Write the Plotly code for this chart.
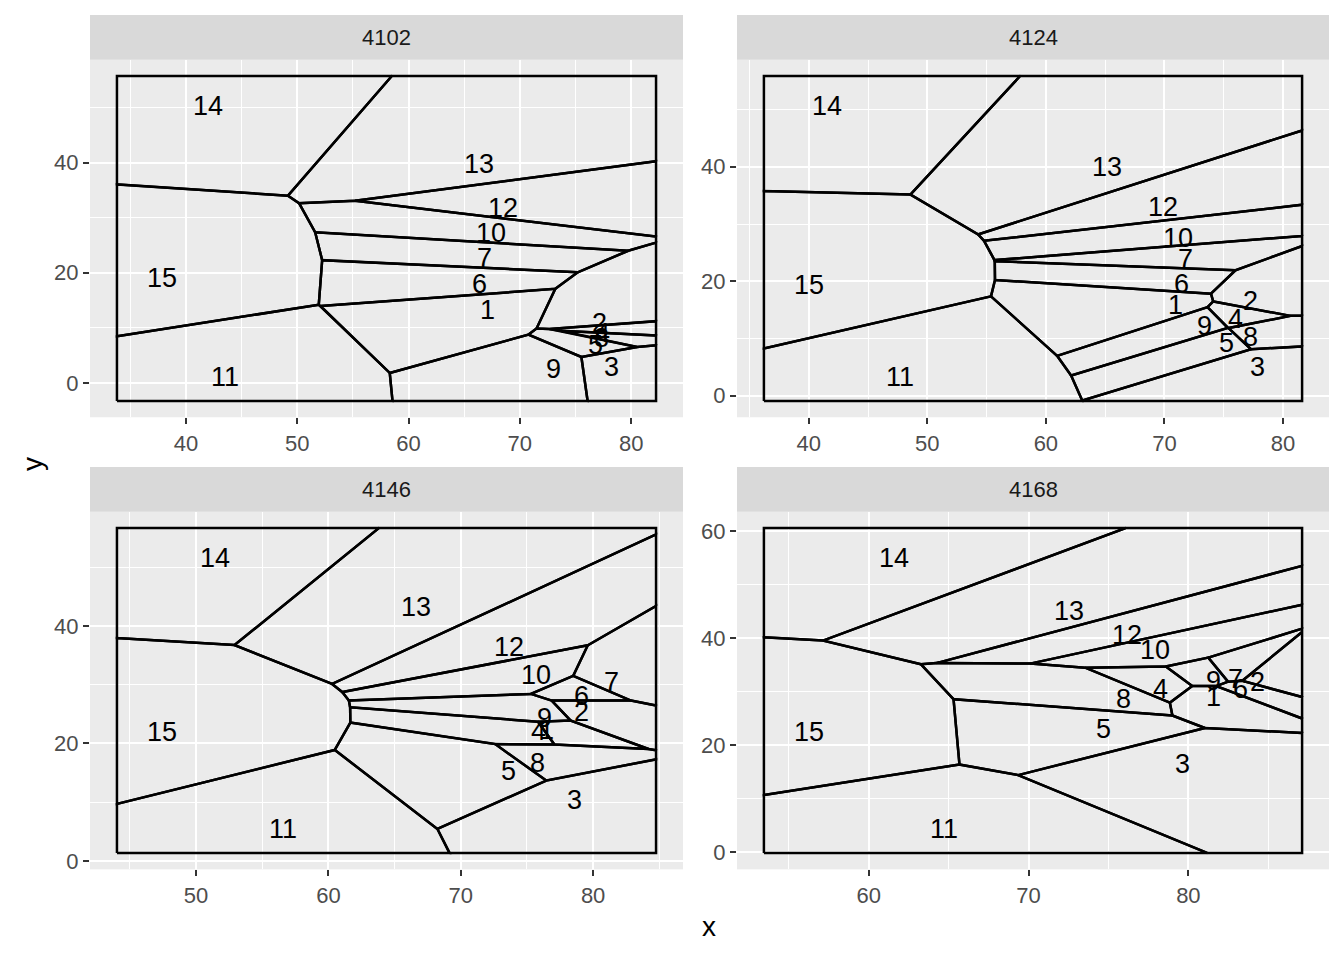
import numpy as np
import plotly.graph_objects as go
from plotly.subplots import make_subplots

# ---------------- data ----------------
facets = ["4102", "4124", "4146", "4168"]
labels = [str(i) for i in range(1, 16)]

x_4102 = [67.12, 77.12, 78.20, 77.39, 76.76, 66.40, 66.85, 77.30, 73.06, 67.39, 43.51, 68.47, 66.31, 41.98, 37.84]
y_4102 = [13.69, 11.35, 3.42, 9.55, 7.39, 18.56, 23.24, 8.65, 3.06, 27.75, 1.62, 32.25, 40.36, 50.81, 19.64]

x_4124 = [70.92, 77.24, 77.83, 75.97, 75.21, 71.42, 71.76, 77.24, 73.36, 71.17, 47.67, 69.91, 65.19, 41.52, 40.00]
y_4124 = [16.29, 17.16, 5.55, 13.86, 9.71, 20.10, 24.44, 10.75, 12.65, 28.08, 3.81, 33.45, 40.55, 51.13, 19.93]

x_4146 = [76.44, 79.09, 78.56, 75.91, 73.64, 79.09, 81.36, 75.83, 76.29, 75.68, 56.59, 73.64, 66.59, 51.44, 47.42]
y_4146 = [22.71, 25.93, 10.85, 22.54, 15.76, 28.64, 31.00, 17.12, 24.75, 32.20, 5.93, 36.95, 43.73, 52.03, 22.37]

x_4168 = [81.56, 84.31, 79.63, 78.25, 74.69, 83.25, 82.94, 75.94, 81.56, 77.94, 64.69, 76.13, 72.56, 61.56, 56.25]
y_4168 = [29.53, 32.34, 17.00, 31.03, 23.55, 31.03, 32.90, 29.16, 32.52, 38.32, 4.86, 41.12, 45.61, 55.51, 22.99]

facet_x = {"4102": x_4102, "4124": x_4124, "4146": x_4146, "4168": x_4168}
facet_y = {"4102": y_4102, "4124": y_4124, "4146": y_4146, "4168": y_4168}


# ---------------- voronoi (clipped to an outline box) ----------------
def clip_poly(poly, a, b, c):
    out = []
    n = len(poly)
    for k in range(n):
        p = poly[k]
        q = poly[(k + 1) % n]
        fp = a * p[0] + b * p[1] - c
        fq = a * q[0] + b * q[1] - c
        if fp <= 0:
            out.append(p)
        if (fp < 0 < fq) or (fq < 0 < fp):
            t = fp / (fp - fq)
            out.append((p[0] + t * (q[0] - p[0]), p[1] + t * (q[1] - p[1])))
    return out


def voronoi_cells(xs, ys, box):
    x0, x1, y0, y1 = box
    cells = []
    for i in range(len(xs)):
        poly = [(x0, y0), (x1, y0), (x1, y1), (x0, y1)]
        for j in range(len(xs)):
            if i == j:
                continue
            a = xs[j] - xs[i]
            b = ys[j] - ys[i]
            mx = (xs[i] + xs[j]) / 2
            my = (ys[i] + ys[j]) / 2
            poly = clip_poly(poly, a, b, a * mx + b * my)
            if not poly:
                break
        cells.append(poly)
    return cells


fig = make_subplots(rows=2, cols=2)

W, H = 1344, 960
col_dom = [(90 / W, 683 / W), (737 / W, 1329 / W)]
row_dom = [(1 - 419 / H, 1 - 60 / H), (1 - 873 / H, 1 - 514 / H)]
strip_dom = [(1 - 60 / H, 1 - 15 / H), (1 - 514 / H, 1 - 469 / H)]

FONT = "Liberation Sans, Arial, Helvetica, sans-serif"
shapes = []
annotations = []

for k, f in enumerate(facets):
    r, c = k // 2, k % 2
    xs = facet_x[f]
    ys = facet_y[f]
    xmin, xmax = min(xs), max(xs)
    ymin, ymax = min(ys), max(ys)
    dx = xmax - xmin
    dy = ymax - ymin
    box = (xmin - 0.1 * dx, xmax + 0.1 * dx, ymin - 0.1 * dy, ymax + 0.1 * dy)
    cells = voronoi_cells(xs, ys, box)
    lx, ly = [], []
    for poly in cells:
        for p in poly:
            lx.append(p[0])
            ly.append(p[1])
        lx.append(poly[0][0])
        ly.append(poly[0][1])
        lx.append(None)
        ly.append(None)
    fig.add_trace(go.Scatter(x=lx, y=ly, mode="lines",
                             line=dict(color="black", width=2.5),
                             hoverinfo="skip", showlegend=False),
                  row=r + 1, col=c + 1)

    axn = "" if k == 0 else str(k + 1)
    for lab, px, py in zip(labels, xs, ys):
        annotations.append(dict(text=lab, x=px, y=py, xref="x" + axn, yref="y" + axn,
                                showarrow=False, xanchor="center", yanchor="middle",
                                yshift=-3,
                                font=dict(size=27, color="black", family=FONT)))

    bw = box[1] - box[0]
    bh = box[3] - box[2]
    xr = [box[0] - 0.05 * bw, box[1] + 0.05 * bw]
    yr = [box[2] - 0.05 * bh, box[3] + 0.05 * bh]

    common = dict(showline=False, zeroline=False, ticks="outside", ticklen=6,
                  tickwidth=2, tickcolor="#333333", gridcolor="white", gridwidth=2.4,
                  tickfont=dict(size=22, color="#4D4D4D", family=FONT),
                  tick0=0)
    fig.update_xaxes(range=xr, dtick=10, domain=col_dom[c],
                     minor=dict(showgrid=True, gridcolor="white", gridwidth=1.2, dtick=5, tick0=0),
                     row=r + 1, col=c + 1, **common)
    fig.update_yaxes(range=yr, dtick=20, domain=row_dom[r],
                     minor=dict(showgrid=True, gridcolor="white", gridwidth=1.2, dtick=10, tick0=0),
                     row=r + 1, col=c + 1, **common)

    shapes.append(dict(type="rect", xref="paper", yref="paper",
                       x0=col_dom[c][0], x1=col_dom[c][1],
                       y0=strip_dom[r][0], y1=strip_dom[r][1],
                       fillcolor="#D9D9D9", line=dict(width=0), layer="below"))
    annotations.append(dict(text=f, xref="paper", yref="paper",
                            x=(col_dom[c][0] + col_dom[c][1]) / 2,
                            y=(strip_dom[r][0] + strip_dom[r][1]) / 2,
                            showarrow=False, xanchor="center", yanchor="middle",
                            font=dict(size=22, color="#1A1A1A", family=FONT)))

annotations.append(dict(text="x", xref="paper", yref="paper", x=709 / W, y=1 - 930 / H,
                        showarrow=False, xanchor="center", yanchor="middle",
                        font=dict(size=28, color="black", family=FONT)))
annotations.append(dict(text="y", xref="paper", yref="paper", x=32 / W, y=1 - 466 / H,
                        showarrow=False, xanchor="center", yanchor="middle", textangle=-90,
                        font=dict(size=28, color="black", family=FONT)))

fig.update_layout(width=W, height=H, margin=dict(l=0, r=0, t=0, b=0),
                  paper_bgcolor="white", plot_bgcolor="#EBEBEB",
                  shapes=shapes, annotations=annotations, showlegend=False,
                  font=dict(family=FONT))

fig.write_html("out.html")
